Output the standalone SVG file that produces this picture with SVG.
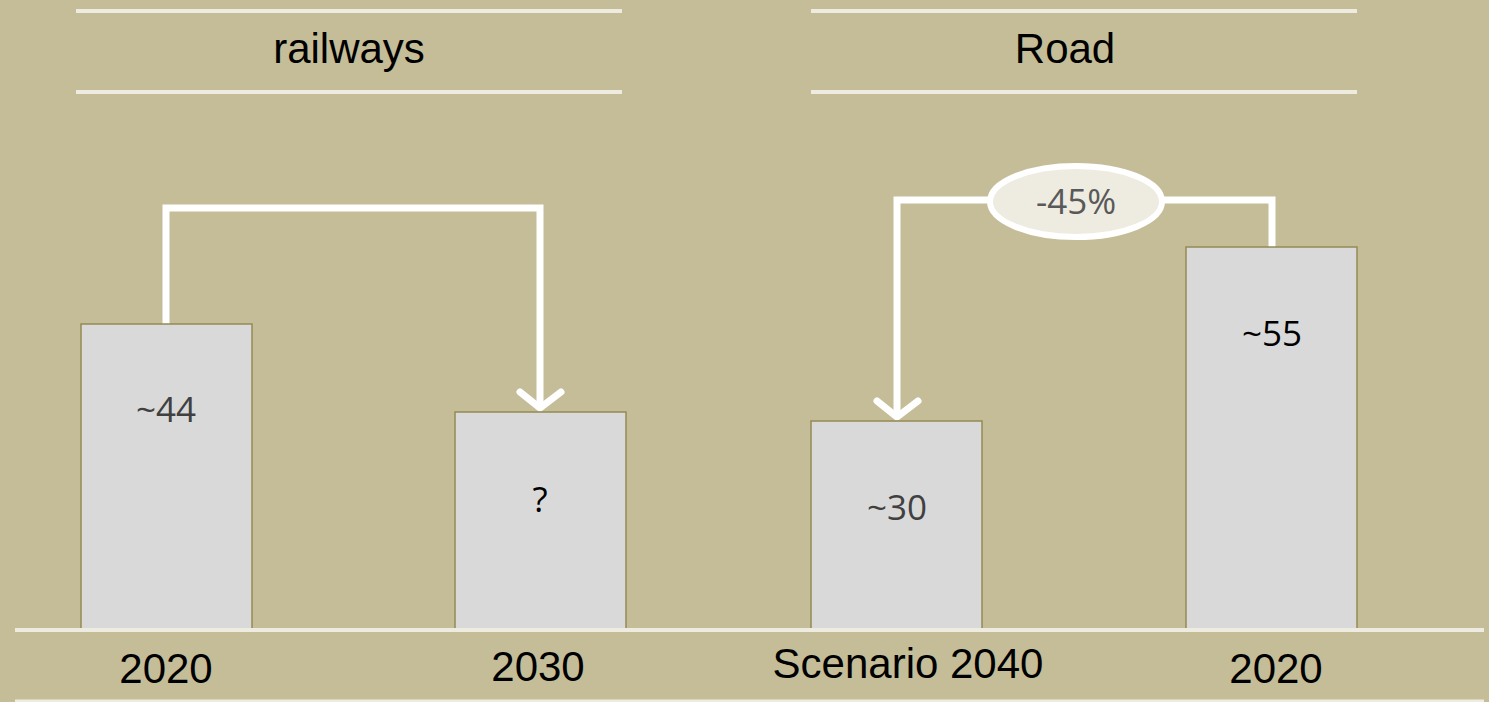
<svg xmlns="http://www.w3.org/2000/svg" width="1489" height="702" viewBox="0 0 1489 702">
<style>
.rule{stroke:#EEECE1;stroke-width:4;fill:none}
.bar{fill:#D9D9D9;stroke:#948A54;stroke-width:1.5}
.conn{stroke:#FFFFFF;stroke-width:7;fill:none;stroke-linejoin:miter}
.head{stroke:#FFFFFF;stroke-width:7;fill:none;stroke-linecap:round;stroke-linejoin:round}
.title{font-family:"Liberation Sans",Arial,sans-serif;font-size:42px;fill:#000;text-anchor:middle}
.year{font-family:"Liberation Sans",Arial,sans-serif;font-size:42px;fill:#000;text-anchor:middle}
.val{font-family:"Open Sans","Noto Sans",sans-serif;font-size:35px;fill:#404040;text-anchor:middle}
</style>
<rect width="1489" height="702" fill="#C5BD98"/>
<g id="headers">
<line class="rule" x1="76" y1="11" x2="622" y2="11"/>
<line class="rule" x1="76" y1="92" x2="622" y2="92"/>
<text class="title" x="349" y="63">railways</text>
<line class="rule" x1="811" y1="11" x2="1357" y2="11"/>
<line class="rule" x1="811" y1="92" x2="1357" y2="92"/>
<text class="title" x="1065" y="63">Road</text>
</g>
<g id="connectors">
<polyline class="conn" points="166,324 166,208 540,208 540,408"/>
<polyline class="head" points="520,392 540,408 561,392"/>
<polyline class="conn" points="1272,247 1272,200 897,200 897,417"/>
<polyline class="head" points="877,401 897,417 918,401"/>
</g>
<g id="bar-rail-2020">
<rect class="bar" x="81" y="324" width="171" height="305"/>
<text class="val" x="166" y="422">~44</text>
</g>
<g id="bar-rail-2030">
<rect class="bar" x="455" y="412" width="171" height="217"/>
<text class="val" x="540" y="512" style="fill:#000">?</text>
</g>
<g id="bar-road-2040">
<rect class="bar" x="811" y="421" width="171" height="208"/>
<text class="val" x="897" y="520">~30</text>
</g>
<g id="bar-road-2020">
<rect class="bar" x="1186" y="247" width="171" height="382"/>
<text class="val" x="1272" y="346" style="fill:#000">~55</text>
</g>
<g id="badge">
<ellipse cx="1076" cy="201.5" rx="86" ry="35.5" fill="#EEECE1" stroke="#FFFFFF" stroke-width="6"/>
<text class="val" x="1076" y="214" style="fill:#595959">-45%</text>
</g>
<g id="axis">
<line x1="15" y1="630" x2="1484" y2="630" stroke="#EEECE1" stroke-width="4"/>
<line x1="15" y1="701" x2="1484" y2="701" stroke="#EEECE1" stroke-width="3"/>
<text class="year" x="166" y="683">2020</text>
<text class="year" x="538" y="681">2030</text>
<text class="year" x="908" y="678">Scenario 2040</text>
<text class="year" x="1276" y="683">2020</text>
</g>
</svg>
